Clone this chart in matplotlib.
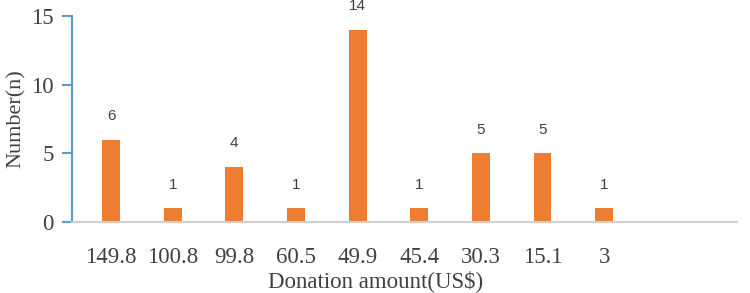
import numpy as np
import matplotlib.pyplot as plt

amounts = ["149.8", "100.8", "99.8", "60.5", "49.9", "45.4", "30.3", "15.1", "3"]
counts = [6, 1, 4, 1, 14, 1, 5, 5, 1]

fig = plt.figure(figsize=(7.5, 2.93), dpi=100)
ax = fig.add_axes([0.096, 0.242, 0.887, 0.703])

x = np.arange(len(amounts))
bars = ax.bar(x, counts, width=0.29, color='#ED7D31')

for xi, c in zip(x, counts):
    ax.annotate(str(c), (xi, c), xytext=(0, 12), textcoords='offset points',
                ha='center', va='bottom', fontsize=11, color='#404040',
                family='Liberation Sans')

ax.set_xlim(-0.633, 10.16)
ax.set_ylim(0, 15)
ax.set_yticks([0, 5, 10, 15])
ax.set_xticks(x)
ax.set_xticklabels(amounts)

for s in ['top', 'right']:
    ax.spines[s].set_visible(False)
ax.spines['left'].set_color('#5B9BD5')
ax.spines['left'].set_linewidth(1.5)
ax.spines['bottom'].set_color('#D0D0D0')
ax.spines['bottom'].set_linewidth(1.5)

ax.tick_params(axis='y', direction='out', length=7, width=1.5, color='#5B9BD5',
               labelsize=16.5, labelcolor='#404040', pad=6)
ax.tick_params(axis='x', length=0, labelsize=16.5, labelcolor='#404040', pad=18)
for lab in ax.get_xticklabels() + ax.get_yticklabels():
    lab.set_family('Liberation Serif')

ax.set_xlabel("Donation amount(US$)", family='Liberation Serif', fontsize=16.5,
              color='#404040')
# label sits a bit left of the axes centre in the original
ax.xaxis.set_label_coords(0.456, -0.285)
ax.xaxis.label.set_va('center')
ax.set_ylabel("Number(n)", family='Liberation Serif', fontsize=16,
              color='#404040', labelpad=4)

fig.savefig("out.png", dpi=100)
